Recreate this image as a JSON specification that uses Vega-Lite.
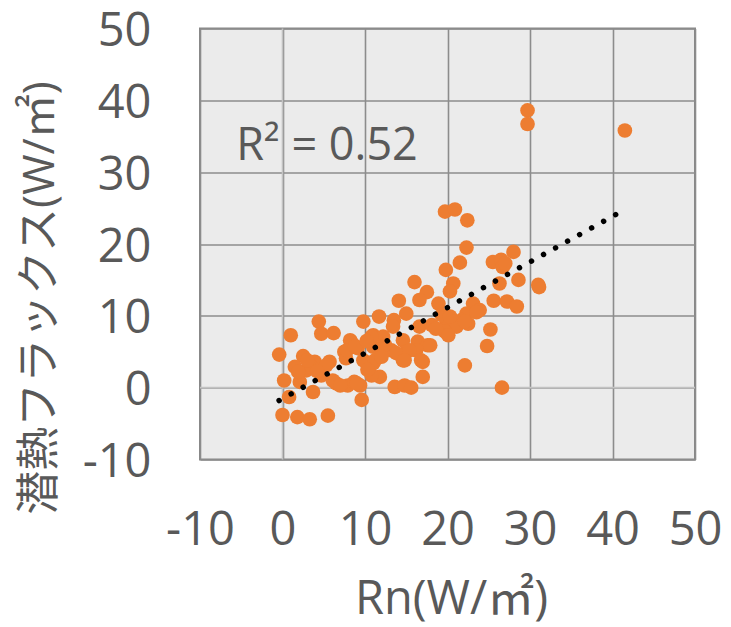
{
  "$schema": "https://vega.github.io/schema/vega-lite/v6.json",
  "autosize": "none",
  "width": 495,
  "height": 431,
  "padding": {"left": 200, "top": 28.5, "right": 36, "bottom": 167.5},
  "background": "white",
  "config": {
    "view": {"fill": "#ebebeb", "stroke": "#878787", "strokeWidth": 2},
    "font": "Open Sans, Noto Sans CJK JP",
    "axis": {
      "grid": true, "gridColor": "#8c8c8c", "gridWidth": 1.6,
      "domain": false, "ticks": false, "labelOverlap": false, "labelFlush": false,
      "labelExpr": "'' + datum.value",
      "labelFont": "Open Sans", "labelFontSize": 47, "labelColor": "#595959",
      "titleFont": "Open Sans, Noto Sans CJK JP", "titleFontWeight": "normal", "titleColor": "#595959"
    }
  },
  "datasets": {
    "pts": [
      {"rn": 29.7, "le": 38.6}, {"rn": 29.7, "le": 36.7}, {"rn": 41.5, "le": 35.8},
      {"rn": 19.7, "le": 24.5}, {"rn": 20.9, "le": 24.8}, {"rn": 22.4, "le": 23.3},
      {"rn": 22.3, "le": 19.5}, {"rn": 21.5, "le": 17.4}, {"rn": 19.8, "le": 16.4},
      {"rn": 28.0, "le": 18.9}, {"rn": 25.5, "le": 17.5}, {"rn": 26.5, "le": 17.8},
      {"rn": 26.7, "le": 16.8}, {"rn": 28.6, "le": 15.0}, {"rn": 26.3, "le": 14.5},
      {"rn": 31.1, "le": 14.0}, {"rn": 16.0, "le": 14.7}, {"rn": 20.7, "le": 14.5},
      {"rn": 17.5, "le": 13.3}, {"rn": 16.6, "le": 12.2}, {"rn": 20.3, "le": 13.4},
      {"rn": 14.1, "le": 12.1}, {"rn": 18.9, "le": 11.7}, {"rn": 25.6, "le": 12.1},
      {"rn": 27.2, "le": 12.0}, {"rn": 28.4, "le": 11.3}, {"rn": 23.1, "le": 11.7},
      {"rn": 23.9, "le": 10.8}, {"rn": 15.0, "le": 10.3}, {"rn": 22.3, "le": 10.3},
      {"rn": 21.7, "le": 9.4}, {"rn": 25.2, "le": 8.1}, {"rn": 24.8, "le": 5.8},
      {"rn": 22.1, "le": 3.1}, {"rn": 26.6, "le": 0.0}, {"rn": 17.0, "le": 1.5},
      {"rn": 13.6, "le": 0.1}, {"rn": 14.8, "le": 0.3}, {"rn": 15.6, "le": 0.0},
      {"rn": 17.0, "le": 3.6}, {"rn": 11.8, "le": 1.5}, {"rn": 10.8, "le": 1.7},
      {"rn": 19.7, "le": 8.5}, {"rn": 21.1, "le": 8.5}, {"rn": 22.5, "le": 8.9},
      {"rn": 19.3, "le": 10.1}, {"rn": 20.3, "le": 9.9}, {"rn": 19.7, "le": 7.8},
      {"rn": 22.1, "le": 9.2}, {"rn": 13.5, "le": 9.4}, {"rn": 11.7, "le": 9.9},
      {"rn": 9.8, "le": 9.2}, {"rn": 13.4, "le": 8.5}, {"rn": 16.6, "le": 8.5},
      {"rn": 18.1, "le": 8.7}, {"rn": 20.1, "le": 7.3}, {"rn": 11.0, "le": 7.3},
      {"rn": 12.2, "le": 7.1}, {"rn": 14.6, "le": 6.6}, {"rn": 16.4, "le": 6.4},
      {"rn": 17.6, "le": 5.9}, {"rn": 11.0, "le": 5.7}, {"rn": 13.2, "le": 5.2},
      {"rn": 15.0, "le": 5.0}, {"rn": 16.2, "le": 5.2}, {"rn": 14.6, "le": 3.8},
      {"rn": 16.8, "le": 3.8}, {"rn": 11.0, "le": 3.4}, {"rn": 9.8, "le": 3.8},
      {"rn": 9.4, "le": 0.3}, {"rn": 4.4, "le": 9.2}, {"rn": 4.7, "le": 7.5},
      {"rn": 6.2, "le": 7.6}, {"rn": 1.0, "le": 7.3}, {"rn": 8.3, "le": 6.4},
      {"rn": -0.4, "le": 4.6}, {"rn": 2.5, "le": 4.4}, {"rn": 3.9, "le": 3.6},
      {"rn": 1.5, "le": 2.9}, {"rn": 5.7, "le": 3.6}, {"rn": 7.5, "le": 5.0},
      {"rn": 9.1, "le": 5.5}, {"rn": 7.7, "le": 4.1}, {"rn": 2.9, "le": 2.4},
      {"rn": 0.2, "le": 1.0}, {"rn": 2.1, "le": 0.8}, {"rn": 4.7, "le": 1.7},
      {"rn": 3.7, "le": -0.6}, {"rn": 6.5, "le": 0.6}, {"rn": 7.9, "le": 0.3},
      {"rn": 8.7, "le": 0.8}, {"rn": 0.8, "le": -1.3}, {"rn": 9.6, "le": -1.7},
      {"rn": 0.0, "le": -3.8}, {"rn": 1.8, "le": -4.1}, {"rn": 3.3, "le": -4.4},
      {"rn": 5.5, "le": -3.9}, {"rn": 3.5, "le": 2.9}, {"rn": 5.3, "le": 3.1},
      {"rn": 1.9, "le": 2.2}, {"rn": 6.1, "le": 1.0}, {"rn": 7.0, "le": 0.3},
      {"rn": 8.2, "le": 6.6}, {"rn": 7.8, "le": 5.2}, {"rn": 10.8, "le": 7.1},
      {"rn": 11.2, "le": 3.8}, {"rn": 13.8, "le": 4.8}, {"rn": 15.4, "le": 5.2},
      {"rn": 17.9, "le": 5.9}, {"rn": 14.8, "le": 3.8}, {"rn": 8.8, "le": 5.8},
      {"rn": 3.0, "le": 3.8}, {"rn": 4.2, "le": 2.3}, {"rn": 12.4, "le": 6.0},
      {"rn": 10.3, "le": 2.5}, {"rn": 12.0, "le": 4.3}, {"rn": 18.6, "le": 8.2},
      {"rn": 23.5, "le": 10.5}, {"rn": 27.0, "le": 17.3}, {"rn": 31.0, "le": 14.3},
      {"rn": 10.2, "le": 6.5}, {"rn": 9.0, "le": 0.6}
    ],
    "trend": [
      {"rn": -0.41, "le": -1.79},
      {"rn": 40.4, "le": 24.1}
    ],
    "one": [{}]
  },
  "layer": [
    {
      "data": {"name": "one"},
      "mark": {"type": "rule", "color": "#c2c2c2", "strokeWidth": 1.6},
      "encoding": {"x": {"datum": 0, "type": "quantitative"}}
    },
    {
      "data": {"name": "one"},
      "mark": {"type": "rule", "color": "#c2c2c2", "strokeWidth": 1.6},
      "encoding": {"y": {"datum": 0, "type": "quantitative"}}
    },
    {
      "data": {"name": "pts"},
      "mark": {"type": "circle", "size": 215, "color": "#ED7D31", "opacity": 1},
      "encoding": {
        "x": {
          "field": "rn", "type": "quantitative",
          "scale": {"domain": [-10, 50], "nice": false, "zero": false},
          "axis": {
            "values": [-10, 0, 10, 20, 30, 40, 50],
            "labelPadding": 48,
            "title": "Rn(W/㎡)", "titleFontSize": 47,
            "titleBaseline": "alphabetic", "titleX": 251, "titleY": 154, "titleAlign": "center"
          }
        },
        "y": {
          "field": "le", "type": "quantitative",
          "scale": {"domain": [-10, 50], "nice": false, "zero": false},
          "axis": {
            "values": [-10, 0, 10, 20, 30, 40, 50],
            "labelPadding": 49, "labelOffset": 3,
            "title": "潜熱フラックス(W/㎡)", "titleFontSize": 44,
            "titleAngle": -90, "titleBaseline": "middle", "titleAlign": "center",
            "titleX": -160, "titleY": 269
          }
        }
      }
    },
    {
      "data": {"name": "trend"},
      "mark": {"type": "line", "color": "black", "strokeWidth": 5.5, "strokeCap": "round", "strokeDash": [0.001, 13.73]},
      "encoding": {
        "x": {"field": "rn", "type": "quantitative"},
        "y": {"field": "le", "type": "quantitative"}
      }
    },
    {
      "data": {"name": "one"},
      "mark": {"type": "text", "text": "R² = 0.52", "fontSize": 45, "color": "#595959", "align": "left", "baseline": "alphabetic", "font": "Open Sans"},
      "encoding": {
        "x": {"datum": -5.6, "type": "quantitative"},
        "y": {"datum": 31.7, "type": "quantitative"}
      }
    }
  ]
}
